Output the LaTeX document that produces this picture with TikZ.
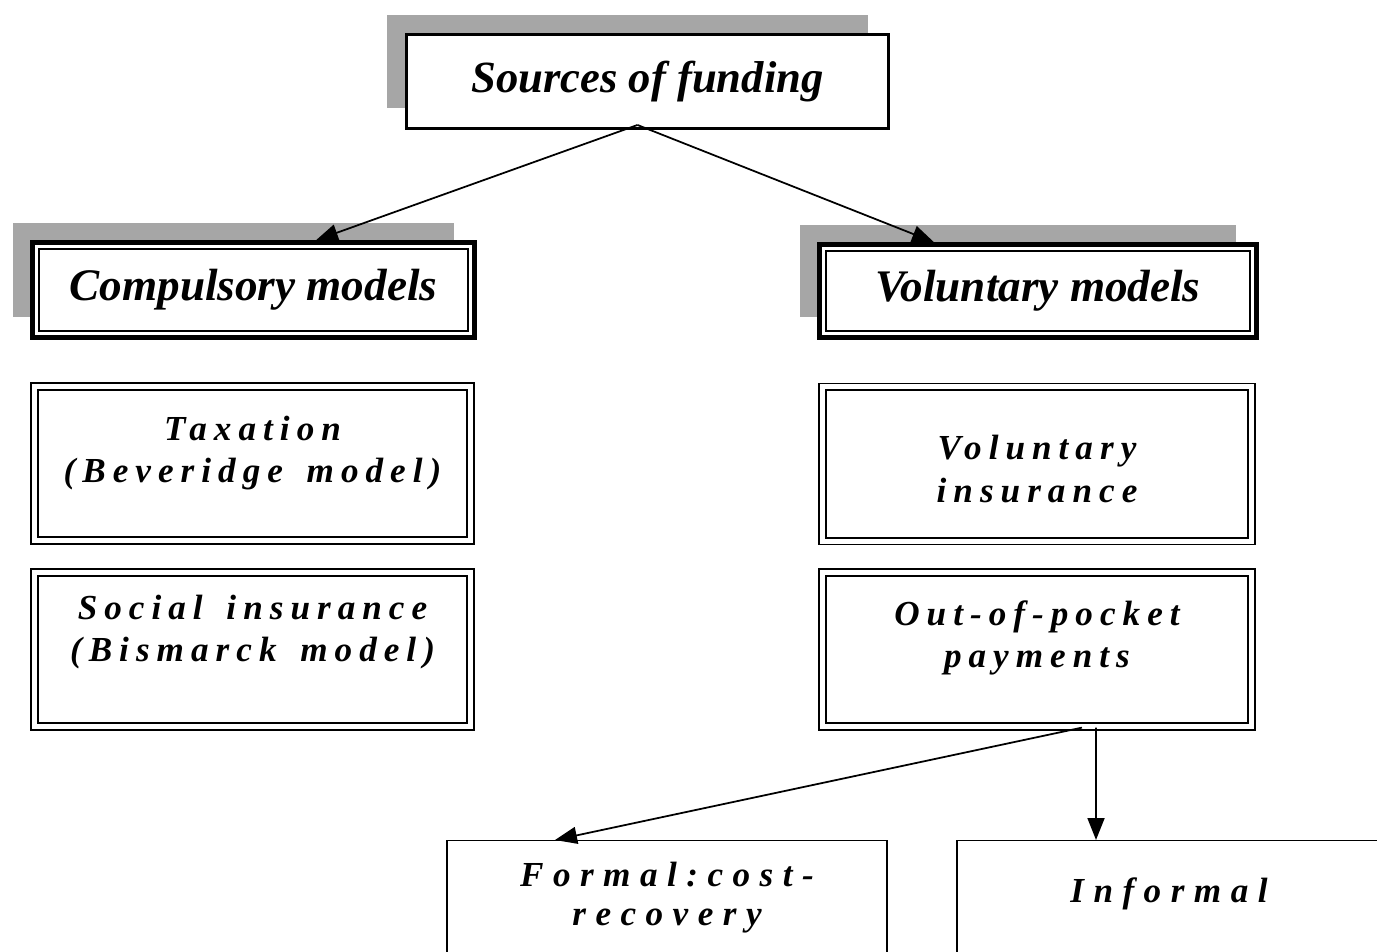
\documentclass[tikz,border=0pt]{standalone}
\usepackage{fontspec}
\setmainfont{Liberation Serif}
\newfontfamily\spacedfont[LetterSpace=20,WordSpace=1.5]{Liberation Serif}
\newfontfamily\leaffont[LetterSpace=27]{Liberation Serif}
\usetikzlibrary{arrows.meta, shadows}

\tikzset{
  shadowed/.style={fill=white, inner sep=0pt,
    drop shadow={shadow xshift=-0.4cm, shadow yshift=0.4cm, fill=black!35, opacity=1}},
  titlebox/.style={shadowed, draw, line width=1.7pt,
    font=\fontsize{25.4}{30}\selectfont\bfseries\itshape},
  headbox/.style={shadowed, draw, line width=2.6pt,
    font=\fontsize{25.7}{30}\selectfont\bfseries\itshape},
  modelbox/.style={draw, double, line width=1pt, double distance=0.1cm,
    minimum width=8.73cm, minimum height=3.09cm, inner sep=0pt},
  modeltext/.style={align=center, font=\fontsize{20}{24}\selectfont\spacedfont\bfseries\itshape},
  leafbox/.style={draw, line width=0.8pt, anchor=north, minimum height=3.2cm, inner sep=0pt},
  leaftext/.style={align=center, font=\fontsize{20}{22}\selectfont\leaffont\bfseries\itshape},
  arr/.style={-{Triangle[length=0.44cm,width=0.34cm]}, line width=1pt}
}

\begin{document}
\begin{tikzpicture}[x=0.02cm, y=-0.02cm]
\useasboundingbox (0,0) rectangle (1377,952);
\clip (0,0) rectangle (1377,952);

% top level
\node[titlebox, minimum width=9.64cm, minimum height=1.88cm] (src) at (647.5,81.5) {Sources of funding};

% the two families of models
\node[headbox, minimum width=8.84cm, minimum height=1.9cm] (cmp) at (253.5,290) {Compulsory models};
\node[headbox, minimum width=8.74cm, minimum height=1.86cm] (vol) at (1038,291) {Voluntary models};
\foreach \n in {cmp,vol}
  \draw[line width=1pt] ([shift={(0.17cm,-0.17cm)}]\n.north west) rectangle ([shift={(-0.17cm,0.17cm)}]\n.south east);

% compulsory side
\node[modelbox] (tax) at (252.5,463.5) {};
\node[modeltext] (taxt) at ([yshift=0.21cm]tax.center) {Taxation\\(Beveridge model)};
\node[modelbox] (soc) at (252.5,649.5) {};
\node[modeltext] (soct) at ([yshift=0.35cm]soc.center) {Social insurance\\(Bismarck model)};

% voluntary side
\node[modelbox, minimum width=8.59cm] (vins) at (1037,464) {};
\node[modeltext] (vinst) at ([yshift=-0.1cm]vins.center) {Voluntary\\insurance};
\node[modelbox, minimum width=8.59cm] (oop) at (1037,649.5) {};
\node[modeltext] (oopt) at ([yshift=0.23cm]oop.center) {Out-of-pocket\\payments};

% out-of-pocket split
\node[leafbox, minimum width=8.8cm] (frm) at (667,840) {};
\node[leaftext] (frmt) at ([yshift=-1.15cm]frm.north) {Formal:cost-\\recovery};
\node[leafbox, minimum width=8.48cm] (inf) at (1169,840) {};
\node[leaftext] (inft) at ([yshift=-1.08cm]inf.north) {Informal};

% arrows
\draw[arr] ([xshift=-0.2cm,yshift=0.1cm]src.south) -- ([xshift=1.25cm]cmp.north);
\draw[arr] ([xshift=-0.2cm,yshift=0.1cm]src.south) -- ([xshift=-2.08cm]vol.north);
\draw[arr] ([xshift=0.9cm]oop.south) -- ([xshift=-2.24cm]frm.north);
\draw[arr] ([xshift=1.18cm]oop.south) -- ([xshift=-1.46cm]inf.north);
\end{tikzpicture}
\end{document}
